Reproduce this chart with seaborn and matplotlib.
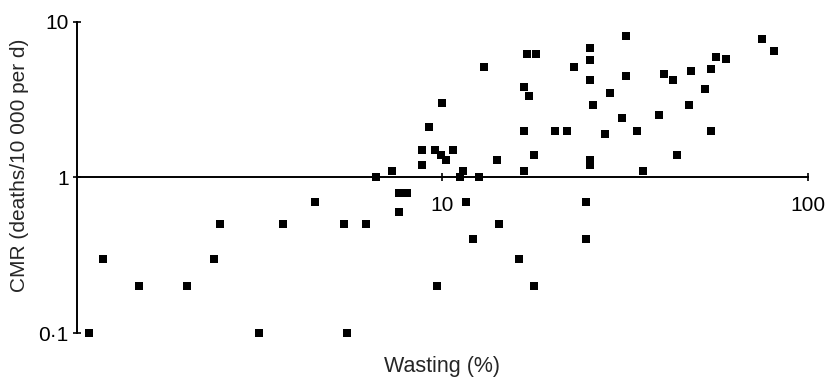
import matplotlib
matplotlib.use("Agg")
import matplotlib.pyplot as plt
import matplotlib.ticker as mticker
import pandas as pd
import seaborn as sns

wasting = [
    1.08, 1.18, 1.48, 2.0, 2.37, 2.46, 3.15, 3.66, 4.48, 5.38, 6.17, 5.47,
    7.6, 8.0, 7.6, 11.6, 9.7, 14.3, 12.1, 16.2, 17.8, 24.8, 24.8,
    6.6, 7.3, 8.8, 8.8, 9.2, 9.55, 9.9, 10.25, 10.7, 10.0, 11.4, 11.2, 12.6,
    13.0, 14.1, 16.7, 16.7, 16.7, 17.3, 17.1, 18.0, 17.8, 20.3, 21.9, 22.9,
    25.3, 25.3, 25.3, 25.8, 25.3, 25.3, 27.8, 28.8, 31.0, 31.8, 31.8, 34.2,
    35.4, 39.2, 40.5, 42.7, 43.9, 47.3, 47.9, 52.4, 54.3, 54.3, 56.0, 59.8,
    74.8, 80.9,
]
cmr = [
    0.1, 0.3, 0.2, 0.2, 0.3, 0.5, 0.1, 0.5, 0.7, 0.5, 0.5, 0.1,
    0.8, 0.8, 0.6, 0.7, 0.2, 0.5, 0.4, 0.3, 0.2, 0.7, 0.4,
    1.0, 1.1, 1.2, 1.5, 2.1, 1.5, 1.4, 1.3, 1.5, 3.0, 1.1, 1.0, 1.0,
    5.1, 1.3, 1.1, 2.0, 3.8, 3.35, 6.2, 6.2, 1.4, 2.0, 2.0, 5.1,
    6.8, 5.7, 4.2, 2.9, 1.3, 1.2, 1.9, 3.5, 2.4, 8.1, 4.5, 2.0,
    1.1, 2.5, 4.6, 4.2, 1.4, 2.9, 4.8, 3.7, 2.0, 5.0, 5.9, 5.8,
    7.7, 6.5,
]
x_ticks = [10, 100]
x_tick_labels = ["10", "100"]
y_ticks = [0.1, 1, 10]
y_tick_labels = ["0\u00b71", "1", "10"]

df = pd.DataFrame({"wasting": wasting, "cmr": cmr})

sns.set_style("ticks")
plt.rcParams["font.family"] = ["Liberation Sans", "DejaVu Sans"]

fig = plt.figure(figsize=(8.25, 3.78), dpi=100)
ax = fig.add_axes([0.0932, 0.1183, 0.8859, 0.8243])

sns.scatterplot(data=df, x="wasting", y="cmr", marker="s", s=26, color="black",
                linewidth=0, clip_on=False, ax=ax)

ax.set_xscale("log")
ax.set_yscale("log")
ax.set_xlim(1, 100)
ax.set_ylim(0.1, 10)

ax.spines["top"].set_visible(False)
ax.spines["right"].set_visible(False)
ax.spines["bottom"].set_position(("data", 1))
for s in ("left", "bottom"):
    ax.spines[s].set_linewidth(1.4)
    ax.spines[s].set_color("black")

ax.xaxis.set_major_locator(mticker.FixedLocator(x_ticks))
ax.xaxis.set_major_formatter(mticker.FixedFormatter(x_tick_labels))
ax.xaxis.set_minor_locator(mticker.NullLocator())
ax.yaxis.set_major_locator(mticker.FixedLocator(y_ticks))
ax.yaxis.set_major_formatter(mticker.FixedFormatter(y_tick_labels))
ax.yaxis.set_minor_locator(mticker.NullLocator())

ax.tick_params(axis="both", direction="inout", length=6, width=1.2,
               labelsize=15, colors="black", pad=3)
ax.tick_params(axis="x", pad=10)

ax.set_xlabel("Wasting (%)", fontsize=15.5)
ax.set_ylabel("CMR (deaths/10 000 per d)", fontsize=15)
ax.xaxis.set_label_coords(0.5, -0.072)
ax.yaxis.set_label_coords(-0.066, 0.54)

fig.savefig("out.png", dpi=100)
